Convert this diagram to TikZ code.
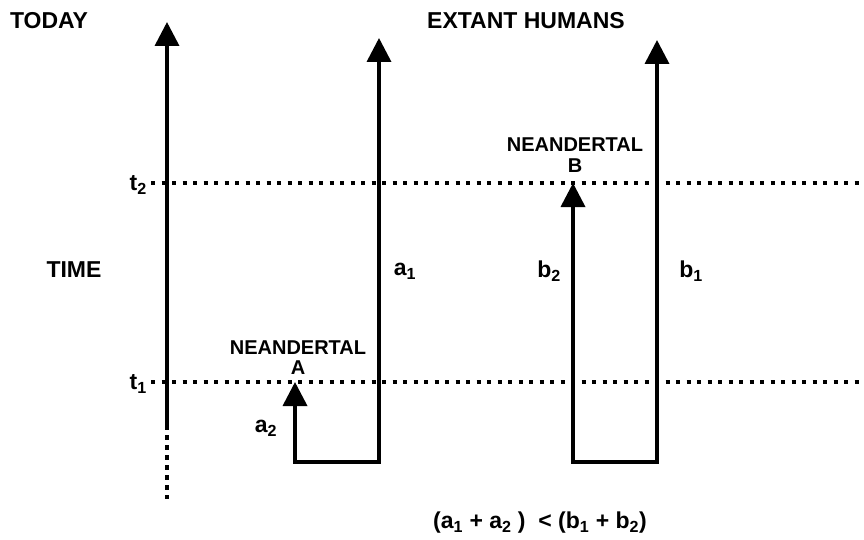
\documentclass[tikz,border=0pt]{standalone}
\usepackage{fontspec}
\setmainfont{Liberation Sans}
\usetikzlibrary{arrows.meta}
\begin{document}
\begin{tikzpicture}[x=1pt,y=-1pt,
  lab/.style={font=\fontsize{20}{23}\selectfont\bfseries, inner sep=0pt},
  head/.style={font=\fontsize{23}{26}\selectfont\bfseries, inner sep=0pt},
  solidline/.style={line width=3.6pt, line join=miter, line cap=butt},
  tip/.style={-{Triangle[width=24pt,length=24pt]}},
  tips/.style={{Triangle[width=24pt,length=24pt]}-{Triangle[width=24pt,length=24pt]}},
  dotline/.style={line width=4pt, dash pattern=on 4pt off 6.5pt}]
\useasboundingbox (0,0) rectangle (864,540);
% coordinates
\coordinate (axT) at (167,22);
\coordinate (axB) at (167,425);
\coordinate (axE) at (167,499);
\coordinate (t2L) at (151,183);
\coordinate (t2R) at (864,183);
\coordinate (t1L) at (151,382);
\coordinate (t1R) at (864,382);
\coordinate (Atop) at (379,38);
\coordinate (Abr) at (379,462);
\coordinate (Abl) at (295,462);
\coordinate (Atip) at (295,382);
\coordinate (Btip) at (573,183);
\coordinate (Bbl) at (573,462);
\coordinate (Bbr) at (657,462);
\coordinate (Btop) at (657,40);
% dotted time lines
\draw[dotline] (t2L) -- (t2R);
\draw[dotline] (t1L) -- (t1R);
\draw[line width=4pt, dash pattern=on 4.5pt off 5.5pt] (axB) -- (axE);
% time axis
\draw[solidline, tip] (axB) -- (axT);
% lineage A
\draw[solidline, tips] (Atip) -- (Abl) -- (Abr) -- (Atop);
% lineage B
\draw[solidline, tips] (Btip) -- (Bbl) -- (Bbr) -- (Btop);
% labels
\node[head] (today) at (49,21) {TODAY};
\node[head] (extant) at (526,21) {EXTANT HUMANS};
\node[head] (time) at (74,270) {TIME};
\node[head, anchor=east] (t2) at (147,185) {t\textsubscript{2}};
\node[head, anchor=east] (t1) at (147,384) {t\textsubscript{1}};
\node[lab] (neaA) at (298,348) {NEANDERTAL};
\node[lab] (labA) at (298,368) {A};
\node[lab] (neaB) at (575,145) {NEANDERTAL};
\node[lab] (labB) at (575,166) {B};
\node[head] (a1) at (405,271) {a\textsubscript{1}};
\node[head] (a2) at (266,428) {a\textsubscript{2}};
\node[head] (b2) at (549,271) {b\textsubscript{2}};
\node[head] (b1) at (691,271) {b\textsubscript{1}};
\node[head] (formula) at (540,523) {(a\textsubscript{1} + a\textsubscript{2} )\ \ < (b\textsubscript{1} + b\textsubscript{2})};
\end{tikzpicture}
\end{document}
